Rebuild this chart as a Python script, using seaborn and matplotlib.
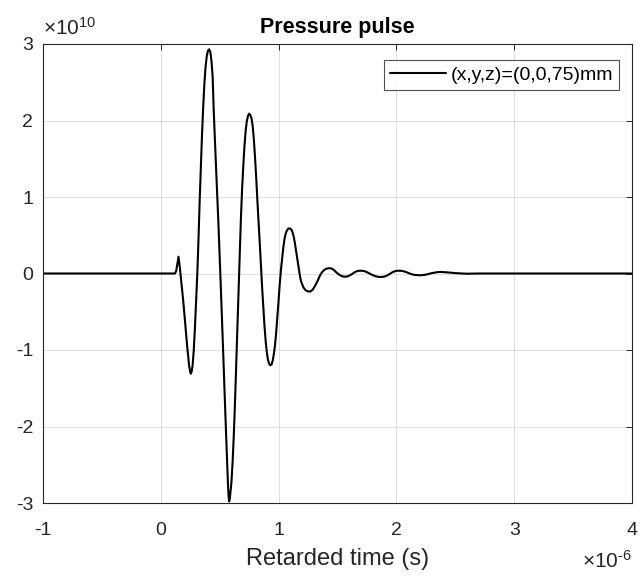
import numpy as np
import pandas as pd
import matplotlib
matplotlib.use("Agg")
import matplotlib.pyplot as plt
import seaborn as sns
from matplotlib.ticker import FuncFormatter

# Retarded time in microseconds
time_us = [
    -1.00, 0.00, 0.12, 0.13, 0.14, 0.15, 0.16, 0.17,
    0.19, 0.21, 0.225, 0.24, 0.25, 0.255, 0.262,
    0.27, 0.28, 0.29, 0.30, 0.31, 0.32, 0.33, 0.34, 0.35, 0.36, 0.37, 0.38, 0.39, 0.40, 0.41, 0.42, 0.43,
    0.44, 0.45, 0.46, 0.47, 0.48, 0.49, 0.50, 0.51, 0.52, 0.53, 0.54, 0.55, 0.56, 0.565, 0.57, 0.575, 0.58, 0.585,
    0.59, 0.60, 0.61, 0.62, 0.63, 0.64, 0.65, 0.66, 0.67, 0.68, 0.69, 0.70, 0.71, 0.72, 0.73, 0.74, 0.75, 0.76,
    0.77, 0.78, 0.79, 0.80, 0.81, 0.82, 0.83, 0.84, 0.85, 0.86, 0.87, 0.88, 0.89, 0.90, 0.91, 0.92, 0.93, 0.94,
    0.95, 0.96, 0.97, 0.98, 0.99, 1.00, 1.01, 1.02, 1.03, 1.04, 1.05, 1.06, 1.07, 1.08, 1.09, 1.10, 1.11,
    1.12, 1.13, 1.14, 1.15, 1.16, 1.17, 1.18, 1.19, 1.21, 1.23, 1.25, 1.27, 1.29, 1.31, 1.33, 1.35,
    1.37, 1.39, 1.41, 1.43, 1.45, 1.47, 1.49, 1.51, 1.53, 1.55, 1.57, 1.59, 1.61, 1.63, 1.65, 1.67,
    1.70, 1.73, 1.76, 1.79, 1.82, 1.85, 1.88, 1.91, 1.94, 1.97, 2.00, 2.03, 2.06, 2.09, 2.12, 2.15,
    2.20, 2.25, 2.30, 2.35, 2.38, 2.43, 2.50, 2.60, 2.70, 4.00,
]

# Pressure in units of 1e10 Pa
pressure_e10 = [
    0.00, 0.00, 0.00, 0.03, 0.12, 0.22, 0.10, -0.05,
    -0.35, -0.70, -0.97, -1.20, -1.29, -1.31, -1.28,
    -1.20, -1.00, -0.70, -0.35, 0.00, 0.45, 0.95, 1.40, 1.82, 2.18, 2.48, 2.70, 2.84, 2.91, 2.93, 2.90, 2.78,
    2.58, 2.10, 1.72, 1.35, 1.00, 0.62, 0.22, -0.20, -0.62, -1.05, -1.50, -1.92, -2.35, -2.55, -2.75, -2.90, -2.98, -2.95,
    -2.88, -2.72, -2.45, -2.10, -1.68, -1.20, -0.72, -0.22, 0.25, 0.72, 1.10, 1.40, 1.66, 1.86, 1.99, 2.06, 2.09, 2.07,
    2.03, 1.93, 1.75, 1.52, 1.25, 0.95, 0.68, 0.40, 0.10, -0.18, -0.44, -0.68, -0.88, -1.03, -1.13, -1.18, -1.20, -1.19,
    -1.14, -1.05, -0.93, -0.76, -0.56, -0.35, -0.13, 0.05, 0.20, 0.34, 0.45, 0.52, 0.56, 0.585, 0.59, 0.585, 0.57,
    0.53, 0.47, 0.38, 0.28, 0.18, 0.08, -0.02, -0.10, -0.18, -0.22, -0.235, -0.235, -0.21, -0.16, -0.10, -0.03,
    0.02, 0.05, 0.065, 0.07, 0.065, 0.045, 0.015, -0.01, -0.03, -0.04, -0.042, -0.035, -0.02, 0.00, 0.02, 0.033,
    0.037, 0.03, 0.01, -0.015, -0.035, -0.045, -0.045, -0.035, -0.01, 0.02, 0.035, 0.037, 0.03, 0.015, -0.005, -0.018,
    -0.024, -0.015, 0.005, 0.018, 0.02, 0.015, 0.005, -0.003, 0.00, 0.00,
]

x_ticks = [-1, 0, 1, 2, 3, 4]
y_ticks = [-3, -2, -1, 0, 1, 2, 3]
x_exponent = -6
y_exponent = 10
series_label = "(x,y,z)=(0,0,75)mm"
title_text = "Pressure pulse"
xlabel_text = "Retarded time (s)"

sns.set_style("white")
plt.rcParams["font.family"] = ["Liberation Sans", "DejaVu Sans"]
plt.rcParams["mathtext.fontset"] = "custom"
plt.rcParams["mathtext.rm"] = "Liberation Sans"
plt.rcParams["mathtext.it"] = "Liberation Sans:italic"
plt.rcParams["mathtext.bf"] = "Liberation Sans:bold"
plt.rcParams["axes.unicode_minus"] = False

xs = 10.0 ** x_exponent
ys = 10.0 ** y_exponent
df = pd.DataFrame({
    "t": np.array(time_us) * xs,
    "p": np.array(pressure_e10) * ys,
})

fig = plt.figure(figsize=(6.41, 5.77), dpi=100)
ax = fig.add_axes([43 / 641, 74 / 577, 589 / 641, 459 / 577])

sns.lineplot(data=df, x="t", y="p", ax=ax, color="black", linewidth=1.5,
             label=series_label, sort=False, estimator=None)

ax.set_xlim(x_ticks[0] * xs, x_ticks[-1] * xs)
ax.set_ylim(y_ticks[0] * ys, y_ticks[-1] * ys)
ax.set_xticks([v * xs for v in x_ticks])
ax.set_yticks([v * ys for v in y_ticks])
ax.xaxis.set_major_formatter(FuncFormatter(lambda v, p: f"{round(v / xs):d}"))
ax.yaxis.set_major_formatter(FuncFormatter(lambda v, p: f"{round(v / ys):d}"))

gray = "#262626"
ax.grid(True, color="#dedede", linewidth=0.7)
ax.set_axisbelow(True)
for s in ax.spines.values():
    s.set_color(gray)
    s.set_linewidth(0.8)
    s.set_visible(True)

ax.tick_params(axis="both", which="major", direction="in", length=4, width=0.7,
               color=gray, labelcolor=gray, labelsize=14, top=True, right=True)
ax.tick_params(axis="x", pad=14)
ax.tick_params(axis="y", pad=7)

# exponent labels (MATLAB style)
ax.annotate(r"$\times10^{%d}$" % y_exponent, xy=(0, 1), xycoords="axes fraction",
            xytext=(0, 4), textcoords="offset points", ha="left", va="bottom",
            fontsize=15, color=gray)
ax.annotate(r"$\times10^{\text{%d}}$" % x_exponent, xy=(1, 0), xycoords="axes fraction",
            xytext=(0, -34), textcoords="offset points", ha="right", va="top",
            fontsize=15, color=gray)

ax.set_title(title_text, fontsize=15.5, fontweight="bold", pad=8, color="black")
ax.set_xlabel(xlabel_text, fontsize=17, color=gray, labelpad=6)
ax.set_ylabel("")

leg = ax.legend(loc="upper right", bbox_to_anchor=(0.978, 0.965), borderaxespad=0,
                fontsize=14, handlelength=2.9, handletextpad=0.2, borderpad=0.32,
                frameon=True, fancybox=False, shadow=False)
leg.get_frame().set_edgecolor(gray)
leg.get_frame().set_linewidth(0.8)
for t in leg.get_texts():
    t.set_color("black")

fig.savefig("out.png", dpi=100)
